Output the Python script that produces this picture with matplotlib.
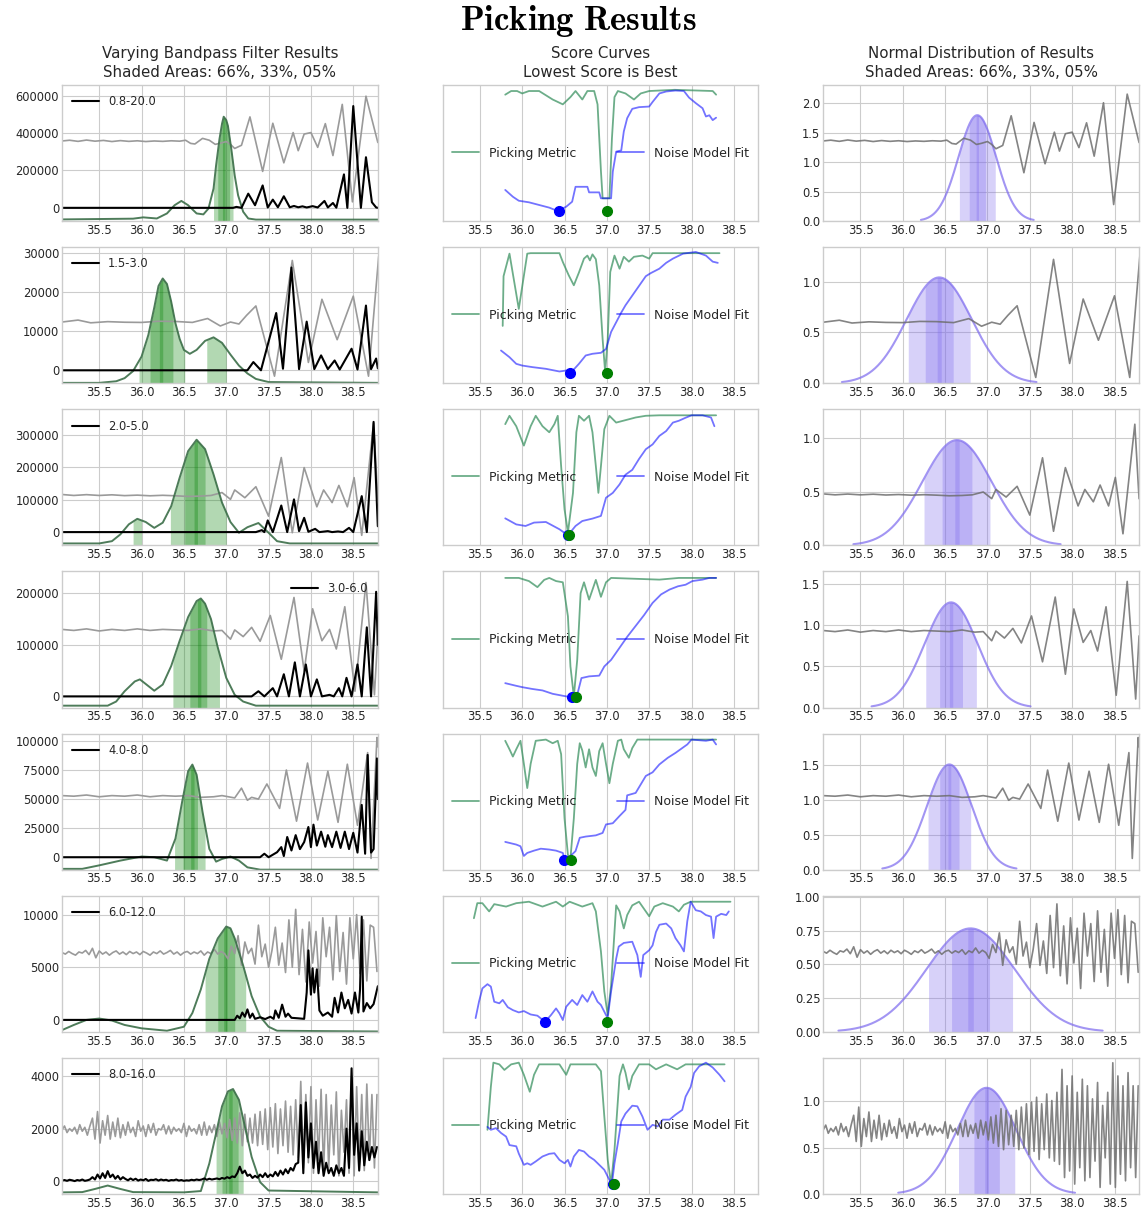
import numpy as np
import matplotlib
matplotlib.use('Agg')
import matplotlib.pyplot as plt

plt.style.use('seaborn-v0_8-whitegrid')
plt.rcParams['font.family'] = ['DejaVu Sans']
plt.rcParams['mathtext.fontset'] = 'cm'

# ---------------- data ----------------
bands = ['0.8-20.0', '1.5-3.0', '2.0-5.0', '3.0-6.0', '4.0-8.0', '6.0-12.0', '8.0-16.0']
xticks = [35.5, 36.0, 36.5, 37.0, 37.5, 38.0, 38.5]

left_ylim = [(-71000, 658000), (-3300, 31400), (-41000, 379000), (-21600, 242600),
             (-10700, 106400), (-1130, 11800), (-490, 4700)]
left_yticks = [[0, 200000, 400000, 600000], [0, 10000, 20000, 30000], [0, 100000, 200000, 300000],
               [0, 100000, 200000], [0, 25000, 50000, 75000, 100000], [0, 5000, 10000], [0, 2000, 4000]]

# filtered traces (gray), x/y pairs in left-panel units
trace1 = [(35.06, 358e3), (35.15, 362e3), (35.25, 356e3), (35.35, 363e3), (35.45, 357e3), (35.55, 361e3),
          (35.65, 355e3), (35.75, 360e3), (35.85, 356e3), (35.95, 359e3), (36.05, 355e3), (36.15, 358e3),
          (36.25, 356e3), (36.35, 359e3), (36.45, 357e3), (36.52, 362e3), (36.58, 345e3), (36.63, 342e3),
          (36.72, 372e3), (36.8, 362e3), (36.87, 340e3), (36.93, 346e3), (37.0, 355e3), (37.05, 340e3),
          (37.1, 318e3), (37.18, 335e3), (37.28, 487e3), (37.43, 195e3), (37.55, 453e3), (37.68, 241e3),
          (37.79, 403e3), (37.85, 306e3), (37.92, 395e3), (38.0, 403e3), (38.08, 324e3), (38.17, 451e3),
          (38.26, 280e3), (38.37, 554e3), (38.49, 32e3), (38.65, 598e3), (38.79, 350e3)]
trace2 = [(35.06, 12300), (35.25, 12800), (35.4, 12100), (35.6, 12400), (35.8, 12250), (36.0, 12200),
          (36.2, 12500), (36.4, 12450), (36.6, 12200), (36.78, 13200), (36.93, 11300), (37.05, 12300),
          (37.15, 11800), (37.24, 14000), (37.35, 16400), (37.57, -1500), (37.78, 28000), (37.97, 2000),
          (38.13, 18100), (38.31, 7800), (38.5, 18900), (38.68, -1500), (38.8, 29000)]
trace3 = [(35.06, 116000), (35.2, 113000), (35.35, 115500), (35.5, 113000), (35.65, 115000), (35.8, 112500),
          (35.95, 114000), (36.1, 112000), (36.25, 113500), (36.4, 112000), (36.55, 110000), (36.7, 111000),
          (36.82, 113000), (36.95, 122000), (37.05, 101000), (37.1, 130000), (37.22, 106000), (37.35, 140000),
          (37.5, 49000), (37.65, 230000), (37.78, -2000), (37.92, 199000), (38.07, 78000), (38.15, 130000),
          (38.25, 91000), (38.33, 144000), (38.43, 78000), (38.51, 168000), (38.6, -10000), (38.74, 336000),
          (38.79, 101000)]
trace4 = [(35.06, 130000), (35.2, 128000), (35.35, 131000), (35.5, 127000), (35.65, 130000), (35.8, 128000),
          (35.95, 131000), (36.1, 128000), (36.25, 130000), (36.4, 129000), (36.55, 128000), (36.7, 131000),
          (36.85, 127000), (36.95, 128000), (37.05, 111000), (37.1, 129000), (37.2, 116000), (37.3, 134000),
          (37.4, 107000), (37.52, 157000), (37.65, 72000), (37.8, 192000), (37.92, 49000), (38.02, 170000),
          (38.13, 108000), (38.22, 130000), (38.3, 92000), (38.4, 174000), (38.52, 10000), (38.65, 221000),
          (38.75, 3000), (38.79, 120000)]
trace5 = [(35.06, 53000), (35.2, 52500), (35.35, 53500), (35.5, 52000), (35.65, 53000), (35.8, 52500),
          (35.95, 53500), (36.1, 52000), (36.25, 53000), (36.4, 52500), (36.55, 53000), (36.7, 51500),
          (36.85, 52000), (36.95, 53000), (37.1, 51000), (37.18, 59400), (37.25, 49000), (37.3, 51500),
          (37.38, 50000), (37.48, 63000), (37.63, 42000), (37.71, 75000), (37.83, 31000), (37.96, 81000),
          (38.08, 32000), (38.2, 74000), (38.32, 30000), (38.43, 80000), (38.55, 27500), (38.67, 90000),
          (38.71, -1000), (38.78, 103000), (38.79, 95000)]
# noisy traces sampled on a regular grid (start, step)
trace6_grid = (35.06, 0.04)
trace6 = [6400, 6250, 6500, 6300, 6150, 6450, 6350, 6600, 6200, 6800, 5900, 6550, 6250, 6450, 6150, 6400,
          6550, 6250, 6450, 6200, 6500, 6300, 6450, 6200, 6500, 6350, 6150, 6450, 6300, 6550, 6250, 6400,
          6600, 6250, 6450, 6150, 6400, 6500, 6250, 6450, 6300, 6550, 6150, 6450, 6300, 6700, 6250, 6500,
          6300, 5800,
          7000, 6300, 8000, 5200, 7400, 6300, 6800, 5300, 9000, 6000, 7200, 5000, 6600, 8800, 5200, 7300,
          4500, 9500, 5000, 10500, 4300, 8600, 3600, 9300, 5400, 8400, 3200, 9700, 6000, 8800, 3800, 9900,
          4600, 8300, 3400, 9700, 5800, 10000, 4400, 9500, 3700, 9000, 8800, 4600]
trace7_grid = (35.06, 0.03)
trace7 = [1950, 2100, 1850, 2000, 1900, 2050, 1800, 2150, 1900, 2050, 1750, 2100,
          2400, 1600, 2650, 1450, 2300, 1750, 2500, 1600, 2250, 1700, 2400, 1650, 2150,
          1750, 2250, 1850, 2050, 1700, 2300, 1900, 2100, 1700, 2150, 1850, 2200, 1750, 2000, 1950, 2150,
          1800, 2100, 1800, 2050, 1900, 2000, 1850, 2200, 1700, 2100, 1900, 2000, 1800, 2150,
          1750, 2250, 1750, 2100, 1850, 2150, 1700, 2250, 1800, 2200, 1650, 2350, 1550, 2400, 1450, 2600,
          1350, 2550, 1500, 2400,
          1450, 2550, 1350, 2650, 1400, 2750, 1200, 2800, 1300, 2950, 1050, 2750, 1350, 3050, 1100, 2850,
          1000, 3100,
          900, 3800, 500, 3300, 700, 3600, 300, 3100, 800, 3500, 400, 3300, 500, 2900, 1000, 3400, 200, 2700,
          1100, 3100, 300, 4000, 200, 3600, 600, 3300, 400, 3700, 800, 3300, 500, 3300]

# characteristic functions (black)
cf1 = [(35.06, 0), (37.08, 0), (37.12, 5000), (37.18, 0), (37.26, 76000), (37.34, 14000), (37.43, 120000),
       (37.49, 2000), (37.55, 44000), (37.61, 3000), (37.68, 62000), (37.75, 3000), (37.8, 10000), (37.85, 3000),
       (37.9, 8000), (37.95, 2000), (38.02, 9000), (38.08, 2000), (38.16, 37000), (38.2, 2000), (38.26, 26000),
       (38.3, 1000), (38.39, 179000), (38.43, 0), (38.5, 545000), (38.59, 0), (38.65, 271000), (38.72, 30000),
       (38.77, 2000), (38.79, 0)]
cf2 = [(35.06, 0), (37.25, 0), (37.32, 2100), (37.41, 0), (37.59, 14600), (37.67, 400), (37.77, 26200),
       (37.86, 300), (37.95, 12400), (38.04, 300), (38.12, 3800), (38.2, 300), (38.28, 2500), (38.34, 200),
       (38.48, 5500), (38.55, 200), (38.65, 16500), (38.71, 300), (38.77, 3000), (38.79, 500)]
cf3 = [(35.06, 0), (37.35, 0), (37.42, 6000), (37.45, 0), (37.49, 36000), (37.55, 0), (37.65, 82000),
       (37.72, 0), (37.8, 101000), (37.86, 3000), (37.92, 44000), (37.97, 1000), (38.05, 10000), (38.1, 0),
       (38.2, 3000), (38.25, 0), (38.32, 2000), (38.38, 0), (38.45, 13000), (38.5, 0), (38.6, 111000),
       (38.66, 0), (38.74, 340000), (38.79, 18000)]
cf4 = [(35.06, 0), (37.3, 0), (37.38, 10000), (37.45, 0), (37.55, 16000), (37.6, 0), (37.68, 43000),
       (37.74, 0), (37.81, 66000), (37.87, 0), (37.94, 62000), (38.0, 0), (38.07, 33000), (38.13, 0),
       (38.22, 3000), (38.27, 0), (38.33, 16000), (38.37, 0), (38.42, 36000), (38.48, 0), (38.55, 62000),
       (38.6, 0), (38.66, 134000), (38.71, 0), (38.77, 203000), (38.79, 100000)]
cf5 = [(35.06, 0), (37.4, 0), (37.45, 3000), (37.5, 0), (37.6, 4300), (37.65, 8700), (37.68, 1000),
       (37.72, 17400), (37.77, 5800), (37.82, 19000), (37.87, 7000), (37.92, 13000), (37.97, 26000),
       (38.0, 8700), (38.03, 28000), (38.07, 10000), (38.12, 22000), (38.17, 9000), (38.2, 19000),
       (38.25, 8700), (38.3, 22000), (38.35, 8000), (38.4, 22000), (38.45, 7000), (38.5, 21000), (38.55, 4000),
       (38.6, 45000), (38.64, 3000), (38.67, 88000), (38.71, 4000), (38.74, 7000), (38.78, 85000), (38.79, 50000)]
cf6 = [(35.06, 0), (37.1, 0), (37.13, 400), (37.16, 150), (37.19, 700), (37.22, 300), (37.25, 1000),
       (37.28, 200), (37.31, 600), (37.34, 100), (37.4, 250), (37.46, 80), (37.52, 300), (37.56, 100),
       (37.58, 900), (37.62, 200), (37.66, 1450), (37.7, 300), (37.73, 600), (37.77, 200), (37.85, 150),
       (37.92, 100), (37.95, 2600), (37.97, 6600), (38.0, 2400), (38.02, 4900), (38.04, 2600), (38.07, 4800),
       (38.1, 900), (38.14, 400), (38.2, 700), (38.25, 300), (38.28, 2100), (38.32, 700), (38.36, 2600),
       (38.4, 1100), (38.44, 1900), (38.48, 600), (38.52, 2600), (38.56, 700), (38.58, 2900), (38.6, 9800),
       (38.62, 800), (38.66, 1600), (38.7, 1100), (38.74, 1500), (38.79, 3200)]
cf7_grid = (35.06, 0.03)
cf7 = [20, 40, 10, 50, 30, 0, 40, 20, 60, 10, 30, 60,
       150, 60, 250, 100, 300, 120, 380, 150, 250, 90, 200, 60, 150,
       80, 30, 100, 40, 90, 20, 60, 30, 80, 10, 50, 40, 70, 20, 60, 30, 50, 10, 40, 30, 60, 20, 40, 10,
       30, 20, 50, 30, 60, 40,
       60, 100, 50, 90, 60, 80, 100, 70, 120, 90, 150, 110, 180, 150, 300, 550, 300, 400, 200, 250,
       120, 200, 130, 250, 150, 300, 150, 250, 180, 350, 200, 400, 250, 450, 300, 500, 400, 650,
       700, 2900, 300, 3000, 900, 2200, 500, 1500, 300, 1100, 200, 700, 300, 500, 200, 600, 300, 500, 200,
       2000, 500, 4300, 1000, 2200, 400, 1900, 600, 1500, 800, 1300, 900, 1300]

# pick density curves (dark green)
dens1 = [(35.06, -62000), (35.9, -58000), (36.02, -51000), (36.18, -57000), (36.3, -30000), (36.39, 14000),
         (36.47, 37000), (36.55, 14000), (36.65, -30000), (36.73, -35000), (36.79, -4000), (36.85, 103000),
         (36.88, 227000), (36.92, 368000), (36.95, 450000), (36.97, 488000), (37.0, 470000), (37.02, 439000),
         (37.06, 315000), (37.1, 173000), (37.14, 67000), (37.2, -21000), (37.26, -57000), (37.35, -63000),
         (38.79, -63000)]
dens2 = [(35.06, -3200), (35.5, -3200), (35.7, -2800), (35.8, -2000), (35.9, -200), (36.0, 3500),
         (36.08, 9000), (36.15, 16000), (36.2, 21500), (36.25, 23400), (36.3, 22000), (36.35, 17500),
         (36.4, 12000), (36.45, 8000), (36.5, 5200), (36.57, 4200), (36.65, 5200), (36.75, 7500),
         (36.85, 8400), (36.95, 7000), (37.05, 4000), (37.15, 1200), (37.25, -800), (37.35, -2200),
         (37.5, -3000), (38.79, -3200)]
dens3 = [(35.06, -35000), (35.5, -35000), (35.65, -28000), (35.75, -7000), (35.85, 24000), (35.95, 41000),
         (36.05, 31000), (36.15, 13000), (36.25, 29000), (36.35, 80000), (36.45, 168000), (36.55, 250000),
         (36.65, 285000), (36.75, 256000), (36.85, 178000), (36.95, 91000), (37.05, 31000), (37.15, -2000),
         (37.25, 15000), (37.38, 28000), (37.5, -2000), (37.6, -28000), (37.75, -35000), (38.79, -35000)]
dens4 = [(35.06, -18000), (35.6, -18000), (35.7, -10000), (35.8, 10000), (35.92, 29000), (35.98, 33000),
         (36.05, 24000), (36.15, 11000), (36.25, 23000), (36.35, 59000), (36.45, 108000), (36.55, 154000),
         (36.65, 185000), (36.7, 190000), (36.75, 180000), (36.82, 150000), (36.9, 95000), (37.0, 36000),
         (37.1, 3000), (37.2, -10000), (37.35, -18000), (38.79, -18000)]
dens5 = [(35.06, -10000), (35.3, -10000), (35.5, -7000), (35.75, -2900), (36.0, 600), (36.15, 0),
         (36.3, -2900), (36.4, 16000), (36.48, 48000), (36.55, 74000), (36.6, 79700), (36.65, 71000),
         (36.72, 39000), (36.8, 7200), (36.88, -3800), (36.95, -1500), (37.05, 600), (37.15, -2900),
         (37.25, -8700), (37.4, -10700), (38.79, -10700)]
dens6 = [(35.06, -970), (35.2, -480), (35.35, 0), (35.5, 130), (35.65, -60), (35.8, -480), (36.0, -800),
         (36.3, -1030), (36.5, -650), (36.6, 650), (36.7, 2900), (36.8, 5800), (36.9, 7740), (37.0, 8870),
         (37.05, 8700), (37.1, 7740), (37.2, 5160), (37.3, 2260), (37.4, 320), (37.5, -650), (37.6, -1030),
         (38.79, -1100)]
dens7 = [(35.06, -430), (35.3, -420), (35.45, -300), (35.6, -170), (35.75, -300), (35.9, -420), (36.5, -430),
         (36.7, -380), (36.8, 670), (36.88, 1820), (36.95, 2850), (37.02, 3420), (37.08, 3510), (37.15, 3100),
         (37.22, 2080), (37.3, 920), (37.4, -40), (37.5, -360), (38.79, -430)]

# shaded intervals of the pick density: 66%, 33%, 05%
dens_bands = [
    [[(36.85, 37.08)], [(36.90, 37.04)], [(36.955, 36.985)]],
    [[(35.97, 36.51), (36.77, 37.0)], [(36.1, 36.37)], [(36.21, 36.25)]],
    [[(35.9, 36.0), (36.34, 37.0)], [(36.51, 36.75)], [(36.62, 36.66)]],
    [[(36.37, 36.92)], [(36.57, 36.77)], [(36.66, 36.70)]],
    [[(36.39, 36.75)], [(36.49, 36.66)], [(36.58, 36.62)]],
    [[(36.75, 37.23)], [(36.9, 37.1)], [(36.97, 37.01)]],
    [[(36.88, 37.2)], [(36.95, 37.14)], [(37.03, 37.07)]],
]

# score curves (middle column), normalised
pm1 = [(35.8, 0.96), (35.87, 0.99), (35.94, 0.99), (36.0, 0.97), (36.08, 0.99), (36.2, 0.99), (36.36, 0.92),
       (36.48, 0.88), (36.57, 0.94), (36.63, 0.99), (36.71, 0.92), (36.77, 0.99), (36.85, 0.99), (36.89, 0.88),
       (36.93, 0.33), (36.95, 0.105), (37.03, 0.105), (37.06, 0.6), (37.09, 0.94), (37.13, 0.99), (37.22, 0.97),
       (37.32, 0.92), (37.4, 0.97), (37.5, 0.99), (37.8, 1.0), (38.25, 0.99), (38.29, 0.96)]
nm1 = [(35.8, 0.174), (35.89, 0.118), (35.96, 0.085), (36.08, 0.072), (36.2, 0.05), (36.32, 0.028), (36.42, 0.0),
       (36.52, 0.036), (36.59, 0.077), (36.63, 0.2), (36.77, 0.2), (36.79, 0.154), (36.91, 0.154), (36.93, 0.105),
       (37.05, 0.105), (37.07, 0.325), (37.11, 0.49), (37.17, 0.5), (37.2, 0.656), (37.24, 0.766), (37.3, 0.843),
       (37.38, 0.857), (37.5, 0.862), (37.54, 0.9), (37.62, 0.97), (37.7, 0.986), (37.81, 0.994), (37.91, 0.99),
       (37.97, 0.936), (38.05, 0.89), (38.13, 0.848), (38.17, 0.78), (38.21, 0.79), (38.25, 0.75), (38.29, 0.77)]
pm2 = [(35.77, 0.39), (35.78, 0.8), (35.85, 0.986), (35.96, 0.53), (36.06, 0.986), (36.1, 0.99), (36.44, 0.99),
       (36.48, 0.917), (36.55, 0.807), (36.61, 0.725), (36.67, 0.83), (36.73, 0.945), (36.77, 0.97), (36.8, 0.93),
       (36.83, 0.98), (36.87, 0.94), (36.91, 0.725), (36.95, 0.28), (36.98, 0.008), (37.01, 0.28), (37.04, 0.835),
       (37.09, 0.97), (37.15, 0.862), (37.2, 0.96), (37.26, 0.92), (37.32, 0.96), (37.42, 0.97), (37.5, 0.945),
       (37.54, 0.99), (38.33, 0.99)]
nm2 = [(35.75, 0.187), (35.85, 0.132), (35.93, 0.077), (36.0, 0.063), (36.12, 0.05), (36.28, 0.036),
       (36.44, 0.014), (36.52, 0.022), (36.57, 0.0), (36.67, 0.077), (36.75, 0.146), (36.83, 0.16),
       (36.93, 0.168), (36.99, 0.2), (37.05, 0.34), (37.11, 0.42), (37.17, 0.5), (37.22, 0.56), (37.3, 0.64),
       (37.38, 0.72), (37.46, 0.8), (37.52, 0.826), (37.62, 0.862), (37.7, 0.91), (37.78, 0.945), (37.9, 0.986),
       (38.05, 1.0), (38.17, 0.97), (38.25, 0.92), (38.31, 0.91)]
pm3 = [(35.8, 0.917), (35.85, 0.986), (35.93, 0.9), (36.02, 0.74), (36.1, 0.9), (36.16, 0.986), (36.24, 0.9),
       (36.32, 0.85), (36.38, 0.917), (36.42, 0.986), (36.46, 0.57), (36.5, 0.215), (36.54, 0.022), (36.6, 0.35),
       (36.64, 0.85), (36.67, 0.986), (36.73, 0.945), (36.79, 0.986), (36.83, 0.85), (36.87, 0.57), (36.9, 0.35),
       (36.93, 0.57), (36.97, 0.876), (37.03, 0.986), (37.11, 0.93), (37.22, 0.95), (37.34, 0.972),
       (37.46, 0.986), (37.62, 0.99), (38.29, 0.99)]
nm3 = [(35.8, 0.14), (35.93, 0.09), (36.04, 0.077), (36.14, 0.105), (36.28, 0.11), (36.44, 0.05), (36.54, 0.0),
       (36.63, 0.077), (36.71, 0.118), (36.83, 0.138), (36.93, 0.16), (36.99, 0.31), (37.07, 0.35),
       (37.15, 0.42), (37.22, 0.5), (37.3, 0.54), (37.38, 0.63), (37.46, 0.71), (37.54, 0.75), (37.62, 0.82),
       (37.7, 0.86), (37.78, 0.93), (37.85, 0.945), (37.93, 0.97), (38.0, 0.99), (38.13, 0.99), (38.23, 0.972),
       (38.27, 0.9)]
pm4 = [(35.8, 0.986), (35.96, 0.986), (36.08, 0.96), (36.18, 0.91), (36.26, 0.97), (36.32, 0.986), (36.4, 0.96),
       (36.48, 0.95), (36.54, 0.67), (36.57, 0.256), (36.61, 0.008), (36.65, 0.31), (36.69, 0.86), (36.73, 0.95),
       (36.79, 0.807), (36.87, 0.97), (36.93, 0.83), (36.99, 0.95), (37.05, 0.986), (37.62, 0.972),
       (37.85, 0.986), (38.29, 0.986)]
nm4 = [(35.8, 0.118), (35.93, 0.096), (36.0, 0.085), (36.12, 0.07), (36.24, 0.058), (36.36, 0.03),
       (36.48, 0.014), (36.59, 0.0), (36.65, 0.022), (36.7, 0.16), (36.79, 0.174), (36.91, 0.18), (36.97, 0.256),
       (37.05, 0.31), (37.15, 0.41), (37.24, 0.5), (37.34, 0.59), (37.44, 0.68), (37.54, 0.78), (37.64, 0.85),
       (37.74, 0.89), (37.84, 0.917), (37.93, 0.93), (38.01, 0.96), (38.13, 0.972), (38.21, 0.986),
       (38.29, 0.986)]
pm5 = [(35.8, 0.98), (35.85, 0.91), (35.89, 0.85), (35.93, 0.91), (35.98, 0.98), (36.02, 0.79), (36.06, 0.59),
       (36.1, 0.79), (36.16, 0.98), (36.28, 0.99), (36.36, 0.96), (36.42, 0.98), (36.46, 0.87), (36.5, 0.34),
       (36.54, 0.04), (36.57, 0.01), (36.61, 0.34), (36.65, 0.79), (36.68, 0.96), (36.71, 0.9), (36.75, 0.76),
       (36.79, 0.91), (36.83, 0.76), (36.87, 0.69), (36.91, 0.895), (36.95, 0.96), (36.99, 0.79), (37.03, 0.63),
       (37.07, 0.79), (37.13, 0.98), (37.17, 0.99), (37.2, 0.91), (37.26, 0.84), (37.3, 0.92), (37.36, 0.99),
       (38.29, 0.99)]
nm5 = [(35.8, 0.146), (35.93, 0.124), (35.98, 0.11), (36.02, 0.03), (36.06, 0.055), (36.14, 0.074),
       (36.22, 0.09), (36.32, 0.083), (36.4, 0.074), (36.48, 0.055), (36.5, 0.0), (36.57, 0.03), (36.63, 0.07),
       (36.68, 0.18), (36.75, 0.19), (36.87, 0.2), (36.95, 0.22), (36.99, 0.29), (37.07, 0.3), (37.15, 0.36),
       (37.22, 0.41), (37.24, 0.53), (37.34, 0.55), (37.4, 0.62), (37.46, 0.69), (37.54, 0.72), (37.62, 0.785),
       (37.72, 0.84), (37.81, 0.88), (37.89, 0.92), (37.95, 0.95), (38.0, 0.99), (38.17, 0.98), (38.25, 0.99),
       (38.29, 0.95)]
pm6 = [(35.43, 0.854), (35.47, 0.978), (35.53, 0.978), (35.61, 0.91), (35.67, 0.97), (35.81, 0.95),
       (35.93, 0.978), (36.08, 0.99), (36.24, 0.95), (36.4, 0.99), (36.48, 0.95), (36.56, 0.99), (36.71, 0.95),
       (36.83, 0.978), (36.87, 0.91), (36.93, 0.58), (36.97, 0.25), (37.01, 0.055), (37.05, 0.3), (37.09, 0.74),
       (37.11, 0.96), (37.15, 0.91), (37.2, 0.77), (37.24, 0.88), (37.3, 0.96), (37.38, 0.99), (37.46, 0.91),
       (37.5, 0.87), (37.56, 0.95), (37.66, 0.978), (37.78, 0.95), (37.85, 0.91), (37.91, 0.965), (37.99, 0.99),
       (38.46, 0.99)]
nm6 = [(35.45, 0.03), (35.49, 0.165), (35.53, 0.275), (35.59, 0.31), (35.63, 0.29), (35.67, 0.165),
       (35.73, 0.152), (35.77, 0.18), (35.83, 0.12), (35.89, 0.096), (35.96, 0.077), (36.02, 0.088),
       (36.1, 0.06), (36.18, 0.05), (36.27, 0.0), (36.34, 0.055), (36.4, 0.11), (36.44, 0.069), (36.48, 0.014),
       (36.52, 0.124), (36.59, 0.18), (36.65, 0.138), (36.71, 0.22), (36.77, 0.165), (36.83, 0.25),
       (36.89, 0.165), (36.93, 0.138), (36.99, 0.055), (37.01, 0.033), (37.05, 0.25), (37.11, 0.52),
       (37.14, 0.62), (37.2, 0.65), (37.3, 0.66), (37.36, 0.55), (37.4, 0.37), (37.43, 0.55), (37.5, 0.59),
       (37.54, 0.63), (37.58, 0.74), (37.62, 0.8), (37.7, 0.81), (37.76, 0.77), (37.81, 0.69), (37.87, 0.63),
       (37.91, 0.58), (37.95, 0.83), (37.99, 0.99), (38.05, 0.92), (38.11, 0.91), (38.17, 0.88), (38.23, 0.867),
       (38.26, 0.69), (38.29, 0.867), (38.35, 0.89), (38.41, 0.88), (38.44, 0.91)]
pm7 = [(35.59, 0.446), (35.63, 0.8), (35.66, 1.0), (35.73, 0.986), (35.79, 0.94), (35.87, 0.986), (35.96, 1.0),
       (36.02, 0.9), (36.09, 0.76), (36.14, 0.9), (36.2, 0.986), (36.44, 0.986), (36.52, 0.9), (36.57, 0.986),
       (36.87, 0.986), (36.93, 0.93), (36.97, 0.556), (37.01, 0.2), (37.05, 0.0), (37.09, 0.28), (37.15, 0.89),
       (37.19, 0.986), (37.22, 0.917), (37.26, 0.78), (37.3, 0.89), (37.38, 0.986), (37.5, 0.986),
       (37.58, 0.945), (37.7, 0.986), (37.83, 0.945), (37.93, 0.986), (38.39, 0.986)]
nm7 = [(35.59, 0.47), (35.63, 0.446), (35.69, 0.46), (35.75, 0.42), (35.81, 0.39), (35.85, 0.32), (35.93, 0.31),
       (35.96, 0.25), (36.02, 0.157), (36.06, 0.17), (36.1, 0.157), (36.16, 0.185), (36.24, 0.226),
       (36.32, 0.248), (36.38, 0.253), (36.44, 0.198), (36.5, 0.17), (36.54, 0.198), (36.57, 0.143),
       (36.61, 0.226), (36.67, 0.28), (36.73, 0.267), (36.79, 0.226), (36.85, 0.198), (36.91, 0.157),
       (36.97, 0.116), (37.03, 0.033), (37.06, 0.0), (37.09, 0.17), (37.13, 0.336), (37.17, 0.515),
       (37.22, 0.58), (37.3, 0.645), (37.36, 0.64), (37.42, 0.556), (37.48, 0.446), (37.54, 0.487),
       (37.6, 0.474), (37.66, 0.53), (37.74, 0.53), (37.81, 0.57), (37.89, 0.61), (37.93, 0.72), (37.99, 0.8),
       (38.03, 0.915), (38.09, 0.97), (38.17, 1.0), (38.25, 0.96), (38.33, 0.9), (38.39, 0.846)]
noise_pick = [36.43, 36.57, 36.54, 36.59, 36.49, 36.27, 37.07]
metric_pick = [37.0, 37.0, 36.55, 36.63, 36.58, 37.0, 37.09]

# normal distribution of results (right column)
pick_mean = [36.88, 36.43, 36.64, 36.57, 36.55, 36.80, 36.99]
pick_std = [0.222, 0.383, 0.408, 0.313, 0.264, 0.52, 0.348]
shade_z = [0.954, 0.431, 0.063]      # half widths (in std) of the 66%, 33%, 05% areas
right_ytop = [2.31, 1.34, 1.264, 1.65, 1.955, 1.01, 1.47]
right_yticks = [[0, 0.5, 1.0, 1.5, 2.0], [0, 0.5, 1.0], [0, 0.5, 1.0], [0, 0.5, 1.0, 1.5],
                [0, 0.5, 1.0, 1.5], [0, 0.25, 0.5, 0.75, 1.0], [0, 0.5, 1.0]]
trace_scale = [3.31e-6, 3.94e-5, 2.94e-6, 6.54e-6, 1.67e-5, 8.6e-5, 3.54e-4]
trace_offset = [0.175, 0.116, 0.137, 0.083, 0.178, 0.046, 0.0]

traces = [trace1, trace2, trace3, trace4, trace5, trace6, trace7]
cfs = [cf1, cf2, cf3, cf4, cf5, cf6, cf7]
dens = [dens1, dens2, dens3, dens4, dens5, dens6, dens7]
metrics = [pm1, pm2, pm3, pm4, pm5, pm6, pm7]
noisefits = [nm1, nm2, nm3, nm4, nm5, nm6, nm7]
grids = {id(trace6): trace6_grid, id(trace7): trace7_grid, id(cf7): cf7_grid}


def xy(series):
    if id(series) in grids:
        start, step = grids[id(series)]
        y = np.array(series, dtype=float)
        return start + step * np.arange(len(y)), y
    a = np.array(series, dtype=float)
    return a[:, 0], a[:, 1]


# ---------------- figure ----------------
FS = 8.3
fig, axes = plt.subplots(7, 3, figsize=(11.41, 12.12), dpi=100)
fig.subplots_adjust(left=0.0543, right=0.9983, bottom=0.0149, top=0.9299, wspace=0.205, hspace=0.191)
fig.suptitle(r'$\mathbf{Picking\ Results}$', x=0.507, y=0.983, va='center', fontsize=25, color='black')

purple = '#7b68ee'
for i in range(7):
    axL, axM, axR = axes[i]
    tx, ty = xy(traces[i])
    cx, cy = xy(cfs[i])
    dx, dy = xy(dens[i])
    lo, hi = left_ylim[i]

    # left: bandpass results
    axL.plot(tx, ty, color='#9a9a9a', lw=1.2)
    for level in dens_bands[i]:
        for a, b in level:
            xs = np.linspace(a, b, 40)
            axL.fill_between(xs, lo, np.interp(xs, dx, dy), color='green', alpha=0.3, lw=0)
    axL.plot(dx, dy, color='#3b6e48', lw=1.4, alpha=0.9)
    axL.plot(cx, cy, color='black', lw=1.5, label=bands[i])
    axL.set_ylim(lo, hi)
    axL.set_yticks(left_yticks[i])
    axL.legend(loc='upper right' if i == 3 else 'upper left', fontsize=FS, handlelength=2.3)

    # middle: score curves
    mx, my = xy(metrics[i])
    nx, ny = xy(noisefits[i])
    axM.plot(mx, my, color='seagreen', alpha=0.7, lw=1.3, label='Picking Metric')
    axM.plot(nx, ny, color='blue', alpha=0.55, lw=1.3, label='Noise Model Fit')
    axM.plot([noise_pick[i]], [0], 'o', color='blue', ms=7)
    axM.plot([metric_pick[i]], [0], 'o', color='green', ms=7)
    axM.set_ylim(-0.083, 1.04)
    axM.set_yticks([])
    axM.legend(loc='center', ncol=2, fontsize=9, handlelength=2.15, columnspacing=3.3)

    # right: normal distribution
    mu, sd = pick_mean[i], pick_std[i]
    xs = np.linspace(mu - 3 * sd, mu + 3 * sd, 200)
    axR.plot(xs, np.exp(-0.5 * ((xs - mu) / sd) ** 2) / (sd * np.sqrt(2 * np.pi)), color=purple, alpha=0.7, lw=1.5)
    for z in shade_z:
        xb = np.linspace(mu - z * sd, mu + z * sd, 40)
        axR.fill_between(xb, 0, np.exp(-0.5 * ((xb - mu) / sd) ** 2) / (sd * np.sqrt(2 * np.pi)),
                         color=purple, alpha=0.3, lw=0)
    axR.plot(tx, ty * trace_scale[i] + trace_offset[i], color='#6e6e6e', lw=1.2, alpha=0.85)
    axR.set_ylim(0, right_ytop[i])
    axR.set_yticks(right_yticks[i])

    for ax in (axL, axM, axR):
        ax.set_xlim(35.06, 38.79)
        ax.set_xticks(xticks)
        ax.tick_params(labelsize=FS, pad=2)

titles = ['Varying Bandpass Filter Results\nShaded Areas: 66%, 33%, 05%',
          'Score Curves\nLowest Score is Best',
          'Normal Distribution of Results\nShaded Areas: 66%, 33%, 05%']
for ax, t in zip(axes[0], titles):
    ax.set_title(t, fontsize=10.8, pad=6, linespacing=1.3)

fig.savefig('out.png', dpi=100)
